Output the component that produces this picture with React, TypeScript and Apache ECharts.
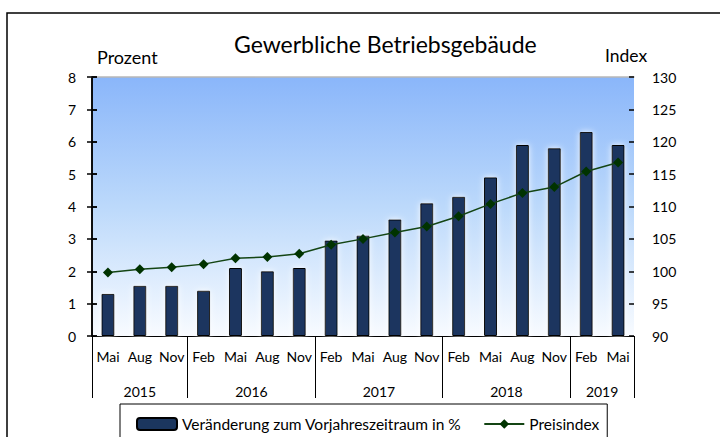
import React, { useEffect, useRef } from "react";
import * as echarts from "echarts";

const months = ["Mai", "Aug", "Nov", "Feb", "Mai", "Aug", "Nov", "Feb", "Mai", "Aug", "Nov", "Feb", "Mai", "Aug", "Nov", "Feb", "Mai"];
const years = ["2015", "2016", "2017", "2018", "2019"];
const monthsPerYear = [3, 4, 4, 4, 2];
const changePct = [1.3, 1.55, 1.55, 1.4, 2.1, 2.0, 2.1, 2.95, 3.1, 3.6, 4.1, 4.3, 4.9, 5.9, 5.8, 6.3, 5.9];
const priceIndex = [99.8, 100.3, 100.6, 101.1, 102.0, 102.2, 102.7, 104.1, 105.0, 106.0, 106.9, 108.5, 110.4, 112.1, 113.0, 115.4, 116.8];
const leftTicks = { min: 0, max: 8, interval: 1 };
const rightTicks = { min: 90, max: 130, interval: 5 };

const FONT = "Lato";

export default function App() {
  const ref = useRef<HTMLDivElement>(null);
  useEffect(() => {
    if (!ref.current) return;
    const chart = echarts.init(ref.current, undefined, { renderer: "svg" });
    const bounds: number[] = [0];
    monthsPerYear.forEach((n) => bounds.push(bounds[bounds.length - 1] + n));
    const centers = years.map((_, i) => (bounds[i] + bounds[i + 1]) / 2);
    const total = bounds[bounds.length - 1];

    chart.setOption({
      animation: false,
      textStyle: { fontFamily: FONT },
      title: {
        text: "Gewerbliche Betriebsgebäude",
        left: 229,
        top: 27,
        textStyle: { fontFamily: FONT, fontSize: 23, fontWeight: "normal", color: "#000" },
      },
      graphic: [
        {
          type: "rect",
          shape: { x: 7, y: 13, width: 730, height: 440 },
          style: { fill: "none", stroke: "#000", lineWidth: 1.5 },
          silent: true,
        },
        {
          type: "text",
          left: 97,
          top: 48,
          style: { text: "Prozent", fontFamily: FONT, fontSize: 18, fill: "#000" },
        },
        {
          type: "text",
          left: 605,
          top: 46,
          style: { text: "Index", fontFamily: FONT, fontSize: 17.5, fill: "#000" },
        },
      ],
      legend: {
        left: 120,
        top: 404,
        borderColor: "#000",
        borderWidth: 1,
        padding: [12, 8, 12, 16],
        itemGap: 22,
        itemWidth: 40,
        itemHeight: 12,
        textStyle: { fontFamily: FONT, fontSize: 15.5, color: "#000" },
        data: [
          { name: "Veränderung zum Vorjahreszeitraum in %" },
          { name: "Preisindex" },
        ],
      },
      grid: {
        left: 92,
        right: 86,
        top: 77,
        bottom: 101,
        show: true,
        borderWidth: 0,
        backgroundColor: new echarts.graphic.LinearGradient(0, 0, 0, 1, [
          { offset: 0, color: "#8AB6FA" },
          { offset: 0.5, color: "#BCD9FB" },
          { offset: 1, color: "#F8FBFF" },
        ]),
      },
      xAxis: [
        {
          type: "category",
          data: months,
          boundaryGap: true,
          position: "bottom",
          axisLine: { lineStyle: { color: "#000", width: 1 } },
          axisTick: { show: false },
          axisLabel: { color: "#000", fontSize: 14, margin: 13, interval: 0, fontFamily: FONT },
          splitLine: { show: false },
        },
        {
          type: "value",
          min: 0,
          max: total,
          position: "bottom",
          axisLine: { show: false },
          axisTick: { show: true, customValues: bounds, length: 62, lineStyle: { color: "#000", width: 1 } },
          axisLabel: {
            color: "#000",
            fontSize: 14,
            margin: 48,
            fontFamily: FONT,
            customValues: centers,
            formatter: (v: number) => {
              const i = centers.indexOf(v);
              return i >= 0 ? years[i] : "";
            },
          },
          splitLine: { show: false },
        },
        {
          type: "value",
          min: 0,
          max: 1,
          position: "top",
          axisLine: { show: true, lineStyle: { color: "#b8b8b8", width: 1.5 } },
          axisTick: { show: false },
          axisLabel: { show: false },
          splitLine: { show: false },
        },
      ],
      yAxis: [
        {
          type: "value",
          position: "left",
          ...leftTicks,
          axisLine: { show: true, lineStyle: { color: "#000", width: 1.5 } },
          axisTick: { show: true, length: 5, lineStyle: { color: "#000", width: 1.5 } },
          axisLabel: { color: "#000", fontSize: 14, margin: 16, fontFamily: FONT },
          splitLine: { show: false },
        },
        {
          type: "value",
          position: "right",
          ...rightTicks,
          axisLine: { show: true, lineStyle: { color: "#000", width: 1.5 } },
          axisTick: { show: true, length: 5, lineStyle: { color: "#000", width: 1.5 } },
          axisLabel: { color: "#000", fontSize: 14, margin: 18, fontFamily: FONT },
          splitLine: { show: false },
        },
        {
          type: "value",
          position: "left",
          ...leftTicks,
          axisLine: { show: false },
          axisTick: { show: true, inside: true, length: 5, lineStyle: { color: "#000", width: 1.5 } },
          axisLabel: { show: false },
          splitLine: { show: false },
        },
        {
          type: "value",
          position: "right",
          ...rightTicks,
          axisLine: { show: false },
          axisTick: { show: true, inside: true, length: 5, lineStyle: { color: "#000", width: 1.5 } },
          axisLabel: { show: false },
          splitLine: { show: false },
        },
      ],
      series: [
        {
          name: "Veränderung zum Vorjahreszeitraum in %",
          type: "bar",
          xAxisIndex: 0,
          yAxisIndex: 0,
          data: changePct,
          barWidth: 13,
          itemStyle: {
            color: "#1B365E",
            borderColor: "#000",
            borderWidth: 1,
            shadowColor: "rgba(255,255,255,0.9)",
            shadowBlur: 6,
          },
        },
        {
          name: "Preisindex",
          type: "line",
          xAxisIndex: 0,
          yAxisIndex: 1,
          data: priceIndex,
          symbol: "diamond",
          symbolSize: 10,
          lineStyle: { color: "#144514", width: 1.5 },
          itemStyle: { color: "#003300" },
          z: 5,
        },
      ],
    });
    return () => chart.dispose();
  }, []);
  return <div ref={ref} style={{ position: "absolute", left: 0, top: 0, width: 720, height: 437 }} />;
}
